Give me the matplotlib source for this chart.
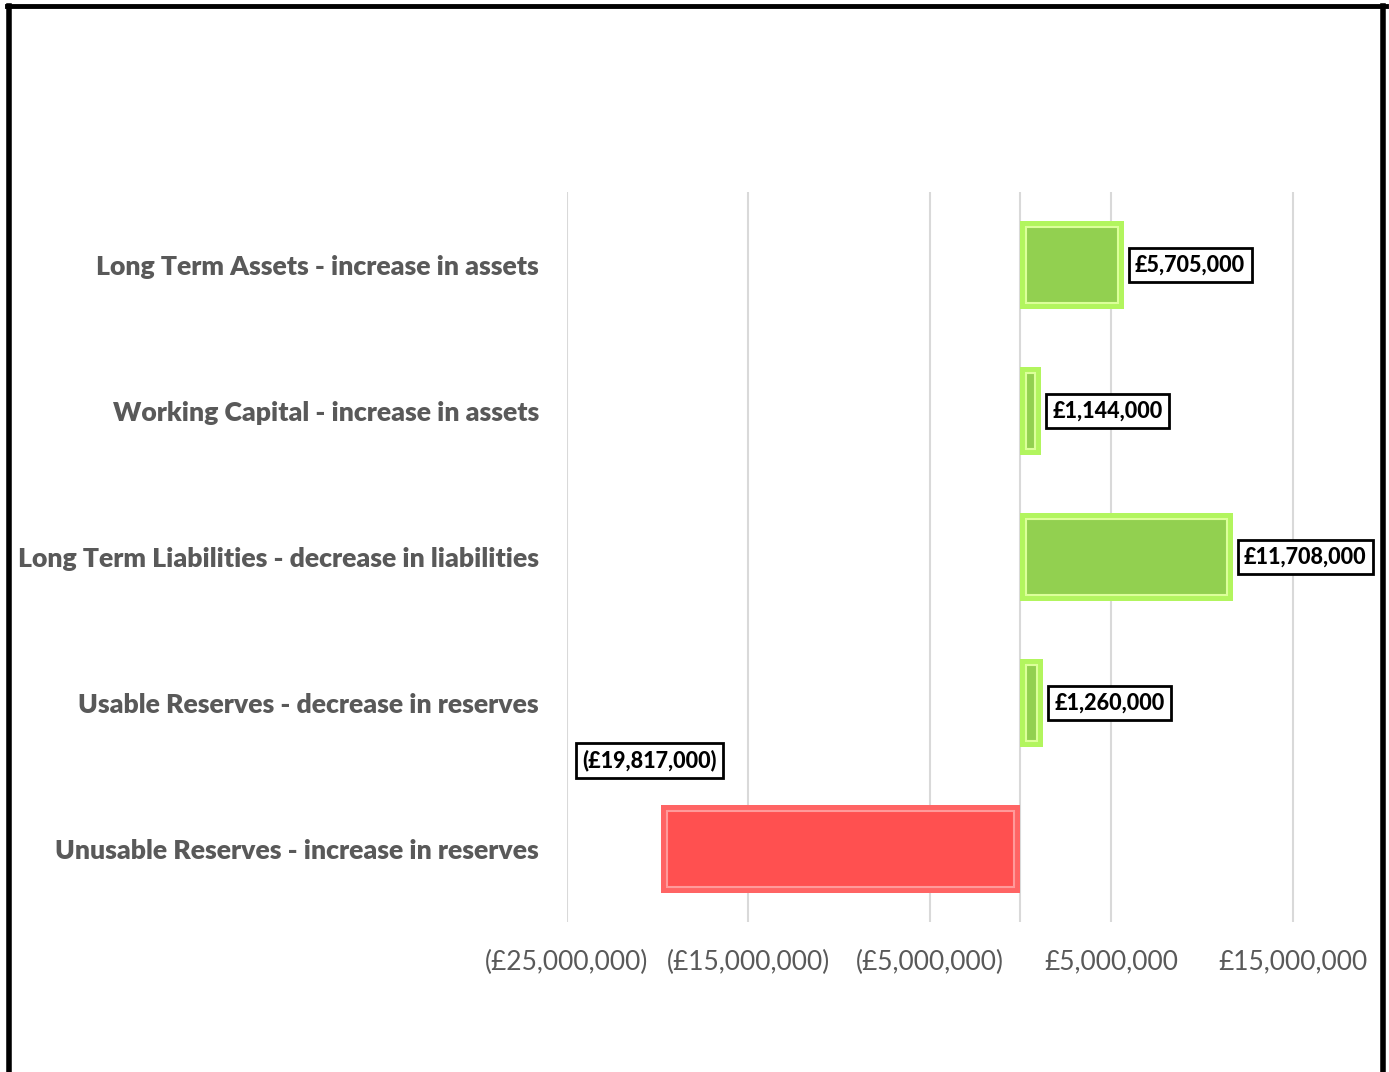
import matplotlib
matplotlib.use('Agg')
from matplotlib import pyplot as plt
from matplotlib.lines import Line2D

categories = ['Long Term Assets - increase in assets',
              'Working Capital - increase in assets',
              'Long Term Liabilities - decrease in liabilities',
              'Usable Reserves - decrease in reserves',
              'Unusable Reserves - increase in reserves']
values = [5705000, 1144000, 11708000, 1260000, -19817000]
ticks = [-25000000, -15000000, -5000000, 5000000, 15000000]
tick_labels = ['(£25,000,000)', '(£15,000,000)', '(£5,000,000)', '£5,000,000', '£15,000,000']

plt.rcParams['font.family'] = ['Lato', 'DejaVu Sans']


def fmt(v):
    '''format a value like the excel labels'''
    s = '£{:,.0f}'.format(abs(v))
    return '(' + s + ')' if v < 0 else s


fig = plt.figure(figsize=(13.89, 10.72), dpi=100)
ax = fig.add_axes([0.408, 0.140, 0.588, 0.681])

ypos = list(range(len(categories)))
outer = ['#b2f55e' if v > 0 else '#ff6464' for v in values]
face = ['#92d050' if v > 0 else '#ff5050' for v in values]
inner = ['#dcff9a' if v > 0 else '#ff9a9a' for v in values]

# outer light frame of the bevel
ax.barh(ypos, values, height=0.60, color=outer, linewidth=0, zorder=3)
# inner darker body
inset = 330000
iv = [v - inset if v > 0 else v + inset for v in values]
ileft = [inset if v > 0 else -inset for v in values]
ax.barh(ypos, [a - b for a, b in zip(iv, ileft)], left=ileft, height=0.52,
        color=face, edgecolor=inner, linewidth=1.5, zorder=4)

for y, v in zip(ypos, values):
    box = dict(boxstyle='square,pad=0.3', facecolor='white', edgecolor='black', linewidth=2)
    if v > 0:
        ax.annotate(fmt(v), (v, y), xytext=(8, 0), textcoords='offset points',
                    ha='left', va='center', fontsize=15.5, fontweight='black', bbox=box, zorder=6)
    else:
        ax.annotate(fmt(v), (v, y), xytext=(-8, 63.5), textcoords='offset points',
                    ha='center', va='center', fontsize=15.5, fontweight='black', bbox=box, zorder=6)

ax.set_xlim(-25000000, 20000000)
ax.set_ylim(4.5, -0.5)
ax.set_xticks(ticks)
ax.set_xticklabels(tick_labels, fontsize=19, color='#595959')
ax.set_yticks(ypos)
ax.set_yticklabels(categories, fontsize=19.2, fontweight='heavy', color='#595959')
ax.tick_params(axis='both', length=0)
ax.tick_params(axis='x', pad=20)
ax.tick_params(axis='y', pad=20)
for s in ax.spines.values():
    s.set_visible(False)
ax.grid(axis='x', color='#d9d9d9', linewidth=1.5, zorder=0)
ax.axvline(0, color='#d9d9d9', linewidth=1.5, zorder=1)

# black frame around the chart (bottom edge cut off)
W, H = 1389, 1072
fig.add_artist(Line2D([8.5 / W, 8.5 / W], [0, 1 - 5.5 / H], color='black', linewidth=4, transform=fig.transFigure))
fig.add_artist(Line2D([6.5 / W, 1385.5 / W], [1 - 5.5 / H, 1 - 5.5 / H], color='black', linewidth=3.5, transform=fig.transFigure))
fig.add_artist(Line2D([1383 / W, 1383 / W], [0, 1 - 5.5 / H], color='black', linewidth=4, transform=fig.transFigure))

fig.savefig('out.png', dpi=100)
